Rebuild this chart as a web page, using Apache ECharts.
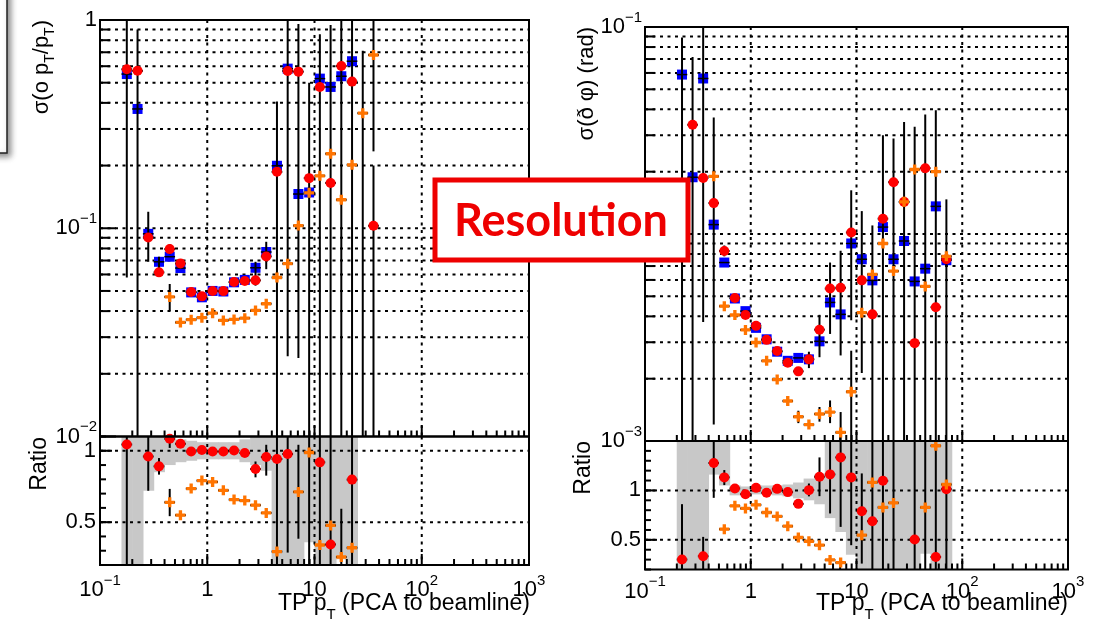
<!DOCTYPE html>
<html>
<head>
<meta charset="utf-8">
<script src="https://cdn.jsdelivr.net/npm/echarts@6/dist/echarts.min.js"></script>
<style>
  html, body { margin: 0; padding: 0; background: #ffffff; }
  #chart { width: 1102px; height: 620px; }
</style>
</head>
<body>
<div id="chart"></div>
<script>
// ---- binning in TP pT (GeV): ten logarithmic bins per decade ----
const binEdges = [0.1585, 0.1995, 0.2512, 0.3162, 0.3981, 0.5012, 0.631, 0.7943, 1.0, 1.259,
  1.585, 1.995, 2.512, 3.162, 3.981, 5.012, 6.31, 7.943, 10.0, 12.59,
  15.85, 19.95, 25.12, 31.62, 39.81, 50.12, 63.1, 79.43];
const binCenters = [0.1778, 0.2239, 0.2818, 0.3548, 0.4467, 0.5623, 0.7079, 0.8913, 1.122, 1.413,
  1.778, 2.239, 2.818, 3.548, 4.467, 5.623, 7.079, 8.913, 11.22, 14.13,
  17.78, 22.39, 28.18, 35.48, 44.67, 56.23, 70.79];

// ---- tick labels ----
const xTickValues = [0.1, 1, 10, 100, 1000];
const xTickTexts = ['{b|10}{e|\u22121}', '{b|1}', '{b|10}', '{b|10}{e|2}', '{b|10}{e|3}'];
const ptTickValues = [0.01, 0.1, 1];
const ptTickTexts = ['{b|10}{e|\u22122}', '{b|10}{e|\u22121}', '{b|1}'];
const phiTickValues = [0.001, 0.01, 0.1];
const phiTickTexts = ['{b|10}{e|\u22123}', '{b|10}{e|\u22122}', '{b|10}{e|\u22121}'];
const ratioTickValues = [0.5, 1];
const ratioTickTexts = ['{b|0.5}', '{b|1}'];

// ---- sigma(delta pT / pT) ----
const ptBlue = [0.55, 0.374, 0.094, 0.069, 0.073, 0.0644, 0.0492, 0.0466, 0.0500, 0.0497,
  0.0550, 0.0565, 0.0646, 0.0769, 0.1995, 0.584, 0.146, 0.1485, 0.523, 0.477,
  0.537, 0.634, null, null, null, null, null];
const ptBlueLo = [null, 0.0001, null, null, null, null, null, null, null, null,
  null, null, null, null, null, null, null, null, null, null,
  null, null, null, null, null, null, null];
const ptBlueHi = [null, 0.9, null, null, null, null, null, null, null, null,
  null, null, null, null, null, null, null, null, null, null,
  null, null, null, null, null, null, null];
const ptRed = [0.58, 0.57, 0.0903, 0.0614, 0.0794, 0.0678, 0.0494, 0.0471, 0.0500, 0.0499,
  0.0552, 0.0558, 0.0562, 0.0732, 0.1866, 0.569, 0.565, 0.174, 0.477, 0.165,
  0.601, 0.506, null, 0.1028, null, null, null];
const ptRedLo = [0.058, null, 0.069, 0.0587, 0.075, 0.065, null, null, null, null,
  null, null, 0.053, 0.0636, 0.0001, 0.0243, 0.0238, 0.0001, 0.0001, 0.0001,
  0.0001, 0.0001, null, 0.0001, null, null, null];
const ptRedHi = [2, null, 0.12, 0.073, 0.084, 0.070, null, null, null, null,
  null, null, 0.069, 0.0861, 0.406, 2, 0.957, 0.5, 0.854, 0.946,
  2, 2, null, 0.2, null, null, null];
const ptOrange = [null, null, null, null, 0.0468, 0.0353, 0.0364, 0.0372, 0.0391, 0.0361,
  0.0365, 0.0370, 0.0403, 0.0434, 0.058, 0.0676, 0.103, 0.148, 0.1786, 0.228,
  0.137, 0.2017, 0.357, 0.679, null, null, null];
const ptOrangeLo = [null, null, null, null, 0.040, null, null, null, null, null,
  null, null, null, null, null, null, null, null, null, null,
  null, null, 0.0001, 0.234, null, null, null];
const ptOrangeHi = [null, null, null, null, 0.054, null, null, null, null, null,
  null, null, null, null, null, null, null, null, null, null,
  null, null, 0.712, 2, null, null, null];

// ratio to the blue reference, pT resolution
const ptRatioRed = [1.044, null, 0.96, 0.891, 1.084, 1.049, 0.995, 1.005, 0.995, 0.995,
  1.002, 0.984, 0.872, 0.956, 0.942, 0.977, null, null, 0.919, 0.344,
  null, 0.798, null, null, null, null, null];
const ptRatioRedLo = [0, null, 0.72, 0.833, 1.02, null, null, null, null, null,
  null, null, 0.814, 0.826, 0, 0.287, null, null, 0, 0,
  null, 0, null, null, null, null, null];
const ptRatioRedHi = [2, null, 2, 0.949, 2, null, null, null, null, null,
  null, null, 0.925, 1.042, 2, 2, null, null, 2, 2,
  null, 2, null, null, null, null, null];
const ptRatioOrange = [null, null, null, null, 0.639, 0.549, 0.735, 0.791, 0.782, 0.723,
  0.658, 0.651, 0.619, 0.565, 0.294, null, 0.712, 0.988, 0.34, 0.477,
  0.256, 0.321, null, null, null, null, null];
const ptRatioOrangeLo = [null, null, null, null, 0.542, null, null, null, null, null,
  null, null, null, 0.54, null, null, 0.384, 0, null, null,
  0, null, null, null, null, null, null];
const ptRatioOrangeHi = [null, null, null, null, 0.733, null, null, null, null, null,
  null, null, null, 0.59, null, null, 1.042, 2, null, null,
  0.594, null, null, null, null, null, null];
const ptBandLo = [0, 0, 0.72, 0.85, 0.9, 0.92, 0.93, 0.94, 0.94, 0.94,
  0.94, 0.92, 0.9, 0.86, 0, 0, 0, 0.36, 0, 0,
  0.24, 0, null, null, null, null, null];
const ptBandHi = [2, 2, 1.28, 1.15, 1.1, 1.08, 1.07, 1.06, 1.06, 1.06,
  1.06, 1.08, 1.1, 1.14, 2, 2, 2, 1.64, 2, 2,
  1.76, 2, null, null, null, null, null];

// ---- sigma(delta phi) ----
const phiBlue = [null, 0.0589, 0.0188, 0.0564, 0.0111, 0.00728, 0.00488, 0.00424, 0.00352, 0.0031,
  0.0027, 0.00244, 0.00252, 0.00248, 0.00303, 0.00467, 0.00409, 0.009, 0.00755, 0.00597,
  0.0108, 0.00755, 0.00925, 0.0059, 0.0068, 0.0136, 0.00747];
const phiBlueLo = [null, 0.0001, null, null, null, null, null, null, null, null,
  null, null, null, null, null, null, null, null, null, null,
  null, null, null, null, null, null, null];
const phiBlueHi = [null, 0.0889, null, null, null, null, null, null, null, null,
  null, null, null, null, null, null, null, null, null, null,
  null, null, null, null, null, null, null];
const phiRed = [null, 0.0177, 0.0337, 0.01866, 0.0141, 0.00828, 0.00491, 0.00406, 0.0036, 0.00308,
  0.00272, 0.00239, 0.00217, 0.00248, 0.00345, 0.00545, 0.0055, 0.01017, 0.00597, 0.00409,
  0.01186, 0.0178, 0.0143, 0.00297, 0.0208, 0.00443, 0.00755];
const phiRedLo = [null, null, 0.0001, 0.00376, 0.0012, 0.0078, null, null, null, null,
  null, null, 0.00206, 0.00225, 0.00254, 0.00329, 0.00259, 0.00383, 0.00213, 0.0001,
  0.0001, 0.0001, 0.0001, 0.0001, 0.0001, 0.0001, 0.0001];
const phiRedHi = [null, null, 0.0716, 2, 0.0365, 0.0088, null, null, null, null,
  null, null, 0.00226, 0.0027, 0.00407, 0.00728, 0.0083, 0.01626, 0.0129, 0.011,
  0.03, 0.0289, 0.0348, 0.033, 0.0378, 0.0396, 0.0147];
const phiOrange = [null, null, null, null, 0.019, 0.00448, 0.00406, 0.00344, 0.00299, 0.00244,
  0.00198, 0.00156, 0.00131, 0.0012, 0.00135, 0.00138, 0.0011, 0.00173, 0.00417, 0.00638,
  0.009, 0.00662, 0.0143, 0.0205, 0.00558, 0.02, 0.0078];
const phiOrangeLo = [null, null, null, null, null, null, null, null, null, null,
  null, 0.00148, 0.00122, null, 0.00124, 0.00122, 0.0001, 0.0001, null, null,
  null, null, null, null, null, null, null];
const phiOrangeHi = [null, null, null, null, null, null, null, null, null, null,
  null, 0.00165, 0.0014, null, 0.00146, 0.00157, 0.00138, 0.00273, null, null,
  null, null, null, null, null, null, null];

// ratio to the blue reference, phi resolution
const phiRatioRed = [null, 0.301, null, 0.334, 1.277, 1.132, 1.02, 0.962, 1.026, 0.976,
  1.016, 0.983, 0.864, 1.003, 1.138, 1.162, 1.334, 1.132, 0.79, 0.689,
  1.097, null, null, 0.504, null, 0.327, 1.013];
const phiRatioRedLo = [null, 0, null, 0, 0.925, 1.054, null, null, null, null,
  null, null, 0.83, 0.94, 0.942, 0.767, 0.631, 0.446, 0.26, 0,
  0, null, null, 0, null, 0, 0];
const phiRatioRedHi = [null, 0.861, null, 0.53, 2, 1.206, null, null, null, null,
  null, null, 0.9, 1.07, 1.334, 2, 2, 2, 1.172, 2,
  2, null, null, 2, null, 2, 2];
const phiRatioOrange = [null, null, null, null, null, 0.608, 0.844, 0.818, 0.854, 0.777,
  0.737, 0.638, 0.524, 0.486, 0.446, 0.297, 0.27, null, 0.547, 1.081,
  0.828, 0.874, null, null, 0.828, 1.452, 1.06];
const phiRatioOrangeLo = [null, null, null, null, null, null, null, null, null, null,
  null, null, null, null, 0.42, 0.27, 0.25, null, null, null,
  null, 0, null, null, 0, null, null];
const phiRatioOrangeHi = [null, null, null, null, null, null, null, null, null, null,
  null, null, null, null, 0.47, 0.325, 0.3, null, null, null,
  null, 2, null, null, 2, null, null];
const phiBandLo = [null, 0, 0, 0, 1.16, 1.05, 0.95, 0.96, 0.96, 0.96,
  0.95, 0.94, 0.92, 0.9, 0.86, 0.72, 0.58, 0.35, 0, 0,
  0, 0, 0, 0, 0.36, 0, 0];
const phiBandHi = [null, 2, 2, 2, 2, 2, 1.05, 1.04, 1.05, 1.05,
  1.05, 1.06, 1.08, 1.12, 1.16, 2, 2, 2, 2, 2,
  2, 2, 2, 2, 2, 2, 2];

// ---- styling ----
const FONT = "'Liberation Sans', Arial, Helvetica, sans-serif";
const BLUE = '#0000ff';
const RED = '#ff0000';
const ORANGE = '#ff7400';
const BAND = '#c8c8c8';
const richLabel = {
  b: { fontFamily: FONT, fontSize: 22, lineHeight: 34, color: '#000' },
  e: { fontFamily: FONT, fontSize: 15, lineHeight: 34, verticalAlign: 'top', color: '#000' }
};
const CROSS = 'path://M3,0L6,0L6,3L9,3L9,6L6,6L6,9L3,9L3,6L0,6L0,3L3,3Z';

function clamp(v, lo, hi) { return Math.min(hi, Math.max(lo, v)); }

function logFormatter(values, texts) {
  return function (v) {
    for (let i = 0; i < values.length; i++) {
      if (Math.abs(Math.log10(v) - Math.log10(values[i])) < 1e-6) return texts[i];
    }
    return '';
  };
}
function linFormatter(values, texts) {
  return function (v) {
    for (let i = 0; i < values.length; i++) {
      if (Math.abs(v - values[i]) < 1e-6) return texts[i];
    }
    return '';
  };
}

// 2..9 times each decade between lo and hi (exclusive of the decades)
function logMinors(lo, hi) {
  const out = [];
  for (let d = Math.round(Math.log10(lo)); d < Math.round(Math.log10(hi)); d++) {
    for (let m = 2; m <= 9; m++) out.push(m * Math.pow(10, d));
  }
  return out;
}
function linSteps(lo, hi, step) {
  const out = [];
  for (let v = lo; v <= hi + 1e-9; v += step) out.push(Math.round(v * 1000) / 1000);
  return out;
}

function markerPoints(values) {
  const pts = [];
  values.forEach(function (v, k) { if (v != null) pts.push([binCenters[k], v]); });
  return pts;
}
function errorItems(values, lo, hi) {
  const items = [];
  values.forEach(function (v, k) {
    if (v == null) return;
    items.push([binCenters[k], v, binEdges[k], binEdges[k + 1],
      lo[k] != null ? lo[k] : v, hi[k] != null ? hi[k] : v]);
  });
  return items;
}
function bandItems(lo, hi) {
  const items = [];
  lo.forEach(function (l, k) {
    if (l == null) return;
    items.push([binCenters[k], 1, binEdges[k], binEdges[k + 1], l, hi[k]]);
  });
  return items;
}

function scatter(gi, values, color, symbol, size, z) {
  return {
    type: 'scatter', xAxisIndex: gi, yAxisIndex: gi, z: z, silent: true,
    symbol: symbol, symbolSize: size,
    itemStyle: { color: color, opacity: 1 },
    data: markerPoints(values)
  };
}

function errorSeries(gi, items, yMin, yMax, width) {
  return {
    type: 'custom', xAxisIndex: gi, yAxisIndex: gi, z: 3, silent: true,
    data: items,
    renderItem: function (params, api) {
      const x = api.value(0), y = api.value(1);
      const ylo = clamp(api.value(4), yMin, yMax), yhi = clamp(api.value(5), yMin, yMax);
      const children = [];
      const pl = api.coord([api.value(2), y]), pr = api.coord([api.value(3), y]);
      children.push({ type: 'line', shape: { x1: pl[0], y1: pl[1], x2: pr[0], y2: pr[1] },
        style: { stroke: '#000', lineWidth: width } });
      if (yhi > ylo) {
        const pb = api.coord([x, ylo]), pt = api.coord([x, yhi]);
        children.push({ type: 'line', shape: { x1: pb[0], y1: pb[1], x2: pt[0], y2: pt[1] },
          style: { stroke: '#000', lineWidth: 2 } });
      }
      return { type: 'group', children: children };
    }
  };
}

function bandSeries(gi, items, yMin, yMax) {
  return {
    type: 'custom', xAxisIndex: gi, yAxisIndex: gi, z: 0, silent: true,
    data: items,
    renderItem: function (params, api) {
      const p1 = api.coord([api.value(2), clamp(api.value(5), yMin, yMax)]);
      const p2 = api.coord([api.value(3), clamp(api.value(4), yMin, yMax)]);
      return { type: 'rect', shape: { x: p1[0], y: p1[1], width: p2[0] - p1[0] + 0.6, height: p2[1] - p1[1] },
        style: { fill: BAND } };
    }
  };
}

// dotted grid, axis ticks (drawn inside the frame) for one panel
function decoSeries(gi, spec) {
  return {
    type: 'custom', xAxisIndex: gi, yAxisIndex: gi, z: 1, silent: true,
    data: [[1, spec.yRef]],
    renderItem: function (params, api) {
      const cs = params.coordSys;
      const left = cs.x, right = cs.x + cs.width, top = cs.y, bottom = cs.y + cs.height;
      const ch = [];
      const dotted = { stroke: '#000', lineWidth: 2, lineDash: [3, 4.5] };
      const solid = { stroke: '#000', lineWidth: 2 };
      spec.hGrid.forEach(function (v) {
        const y = api.coord([1, v])[1];
        ch.push({ type: 'line', shape: { x1: left, y1: y, x2: right, y2: y }, style: dotted });
      });
      spec.vGrid.forEach(function (v) {
        const x = api.coord([v, spec.yRef])[0];
        ch.push({ type: 'line', shape: { x1: x, y1: top, x2: x, y2: bottom }, style: dotted });
      });
      spec.yMajor.forEach(function (v) {
        const y = api.coord([1, v])[1];
        ch.push({ type: 'line', shape: { x1: left, y1: y, x2: left + spec.yMajorLen, y2: y }, style: solid });
      });
      spec.yMinor.forEach(function (v) {
        const y = api.coord([1, v])[1];
        ch.push({ type: 'line', shape: { x1: left, y1: y, x2: left + spec.yMinorLen, y2: y }, style: solid });
      });
      spec.xMajor.forEach(function (v) {
        const x = api.coord([v, spec.yRef])[0];
        ch.push({ type: 'line', shape: { x1: x, y1: bottom, x2: x, y2: bottom - 11 }, style: solid });
      });
      spec.xMinor.forEach(function (v) {
        const x = api.coord([v, spec.yRef])[0];
        ch.push({ type: 'line', shape: { x1: x, y1: bottom, x2: x, y2: bottom - 6 }, style: solid });
      });
      return { type: 'group', children: ch };
    }
  };
}

function frameSeries(gi, yRef) {
  return {
    type: 'custom', xAxisIndex: gi, yAxisIndex: gi, z: 10, silent: true,
    data: [[1, yRef]],
    renderItem: function (params) {
      const cs = params.coordSys;
      return { type: 'rect', shape: { x: cs.x, y: cs.y, width: cs.width, height: cs.height },
        style: { fill: 'none', stroke: '#000', lineWidth: 2 } };
    }
  };
}

const xMinors = logMinors(0.1, 1000);
const xDecades = [1, 10, 100];

function xAxisFor(gi, showLabels, margin) {
  return {
    type: 'log', logBase: 10, min: 0.1, max: 1000, gridIndex: gi,
    axisLine: { show: false }, axisTick: { show: false }, splitLine: { show: false },
    axisLabel: {
      show: showLabels, margin: margin, interval: 0, hideOverlap: false,
      showMinLabel: true, showMaxLabel: true,
      formatter: logFormatter(xTickValues, xTickTexts), rich: richLabel
    }
  };
}
function logYAxis(gi, min, max, values, texts) {
  return {
    type: 'log', logBase: 10, min: min, max: max, gridIndex: gi,
    axisLine: { show: false }, axisTick: { show: false }, splitLine: { show: false },
    axisLabel: { margin: 3, showMinLabel: true, showMaxLabel: true, hideOverlap: false,
      formatter: logFormatter(values, texts), rich: richLabel }
  };
}
function ratioYAxis(gi, min, max) {
  return {
    type: 'value', min: min, max: max, interval: 0.1, gridIndex: gi,
    axisLine: { show: false }, axisTick: { show: false }, splitLine: { show: false },
    axisLabel: { margin: 4, hideOverlap: false, showMinLabel: true, showMaxLabel: true,
      formatter: linFormatter(ratioTickValues, ratioTickTexts), rich: richLabel }
  };
}

function panelSeries(gi, yMin, yMax, isLog, yRef, sets, band) {
  const list = [];
  const spec = {
    yRef: yRef, vGrid: xDecades, xMajor: xDecades, xMinor: xMinors,
    hGrid: isLog ? logMinors(yMin, yMax).concat([Math.sqrt(yMin * yMax)]) : ratioTickValues,
    yMajor: isLog ? [yMin, Math.sqrt(yMin * yMax), yMax] : ratioTickValues,
    yMinor: isLog ? logMinors(yMin, yMax) : linSteps(yMin, yMax, 0.1),
    yMajorLen: isLog ? 16 : 12, yMinorLen: isLog ? 10 : 6
  };
  if (band) list.push(bandSeries(gi, band, yMin, yMax));
  list.push(decoSeries(gi, spec));
  sets.forEach(function (s) { list.push(errorSeries(gi, s.err, yMin, yMax, s.barWidth || 2)); });
  sets.forEach(function (s) { list.push(scatter(gi, s.values, s.color, s.symbol, s.size, s.z)); });
  list.push(frameSeries(gi, yRef));
  return list;
}

const series = [].concat(
  panelSeries(0, 0.01, 1, true, 0.1, [
    { values: ptBlue, err: errorItems(ptBlue, ptBlueLo, ptBlueHi), color: BLUE, symbol: 'rect', size: 10, z: 2, barWidth: 1.5 },
    { values: ptRed, err: errorItems(ptRed, ptRedLo, ptRedHi), color: RED, symbol: 'circle', size: 10, z: 4 },
    { values: ptOrange, err: errorItems(ptOrange, ptOrangeLo, ptOrangeHi), color: ORANGE, symbol: CROSS, size: 10, z: 5 }
  ], null),
  panelSeries(1, 0.2, 1.1, false, 1, [
    { values: ptRatioRed, err: errorItems(ptRatioRed, ptRatioRedLo, ptRatioRedHi), color: RED, symbol: 'circle', size: 10, z: 4 },
    { values: ptRatioOrange, err: errorItems(ptRatioOrange, ptRatioOrangeLo, ptRatioOrangeHi), color: ORANGE, symbol: CROSS, size: 10, z: 5 }
  ], bandItems(ptBandLo, ptBandHi)),
  panelSeries(2, 0.001, 0.1, true, 0.01, [
    { values: phiBlue, err: errorItems(phiBlue, phiBlueLo, phiBlueHi), color: BLUE, symbol: 'rect', size: 10, z: 2, barWidth: 1.5 },
    { values: phiRed, err: errorItems(phiRed, phiRedLo, phiRedHi), color: RED, symbol: 'circle', size: 10, z: 4 },
    { values: phiOrange, err: errorItems(phiOrange, phiOrangeLo, phiOrangeHi), color: ORANGE, symbol: CROSS, size: 10, z: 5 }
  ], null),
  panelSeries(3, 0.2, 1.5, false, 1, [
    { values: phiRatioRed, err: errorItems(phiRatioRed, phiRatioRedLo, phiRatioRedHi), color: RED, symbol: 'circle', size: 10, z: 4 },
    { values: phiRatioOrange, err: errorItems(phiRatioOrange, phiRatioOrangeLo, phiRatioOrangeHi), color: ORANGE, symbol: CROSS, size: 10, z: 5 }
  ], bandItems(phiBandLo, phiBandHi))
);

const titleRich = {
  n: { fontFamily: FONT, fontSize: 22, lineHeight: 30, color: '#000' },
  s: { fontFamily: FONT, fontSize: 14, lineHeight: 30, verticalAlign: 'bottom', color: '#000' }
};
const xTitleRich = {
  n: { fontFamily: FONT, fontSize: 23, lineHeight: 30, color: '#000' },
  s: { fontFamily: FONT, fontSize: 15, lineHeight: 36, verticalAlign: 'bottom', color: '#000' }
};

function textEl(x, y, text, rich, rotated, align) {
  return {
    type: 'text', x: x, y: y, z: 50, rotation: rotated ? Math.PI / 2 : 0, silent: true,
    style: { text: text, rich: rich, align: align, verticalAlign: 'middle',
      textAlign: align, textVerticalAlign: 'middle' }
  };
}

const graphics = [
  // edge of a framed box at the top-left corner
  { type: 'rect', z: 60, silent: true,
    shape: { x: -20, y: -20, width: 27, height: 173 },
    style: { fill: '#fff', stroke: '#222', lineWidth: 1.5,
      shadowBlur: 6, shadowOffsetX: 3, shadowOffsetY: 3, shadowColor: 'rgba(0,0,0,0.45)' } },
  textEl(42, 20, '{n|\u03c3(\u03bf p}{s|T}{n|/p}{s|T}{n|)}', titleRich, true, 'right'),
  textEl(587, 27, '{n|\u03c3(\u00f0 \u03c6) (rad)}', titleRich, true, 'right'),
  textEl(40, 437, '{n|Ratio}', { n: { fontFamily: FONT, fontSize: 23, color: '#000' } }, true, 'right'),
  textEl(584, 441, '{n|Ratio}', { n: { fontFamily: FONT, fontSize: 23, color: '#000' } }, true, 'right'),
  textEl(530, 604, '{n|TP p}{s|T}{n| (PCA to beamline)}', xTitleRich, false, 'right'),
  textEl(1068, 604, '{n|TP p}{s|T}{n| (PCA to beamline)}', xTitleRich, false, 'right'),
  { type: 'rect', z: 90, silent: true,
    shape: { x: 435, y: 180, width: 253, height: 80 },
    style: { fill: '#ffffff', stroke: '#ee0000', lineWidth: 5 } },
  { type: 'text', z: 91, silent: true, x: 561, y: 221,
    style: { text: 'Resolution', fill: '#ee0000', font: 'bold 45px Lato, "Open Sans", sans-serif',
      align: 'center', verticalAlign: 'middle', textAlign: 'center', textVerticalAlign: 'middle' } }
];

const chart = echarts.init(document.getElementById('chart'), null, { renderer: 'canvas' });
chart.setOption({
  animation: false,
  backgroundColor: '#ffffff',
  grid: [
    { left: 100, top: 20, width: 429, height: 416.5, containLabel: false, outerBoundsMode: 'none' },
    { left: 100, top: 436.5, width: 429, height: 128.5, containLabel: false, outerBoundsMode: 'none' },
    { left: 645, top: 27, width: 423, height: 414, containLabel: false, outerBoundsMode: 'none' },
    { left: 645, top: 441, width: 423, height: 128.5, containLabel: false, outerBoundsMode: 'none' }
  ],
  xAxis: [xAxisFor(0, false, 8), xAxisFor(1, true, 8), xAxisFor(2, false, 8), xAxisFor(3, true, 5)],
  yAxis: [
    logYAxis(0, 0.01, 1, ptTickValues, ptTickTexts),
    ratioYAxis(1, 0.2, 1.1),
    logYAxis(2, 0.001, 0.1, phiTickValues, phiTickTexts),
    ratioYAxis(3, 0.2, 1.5)
  ],
  series: series,
  graphic: { elements: graphics }
});
</script>
</body>
</html>
